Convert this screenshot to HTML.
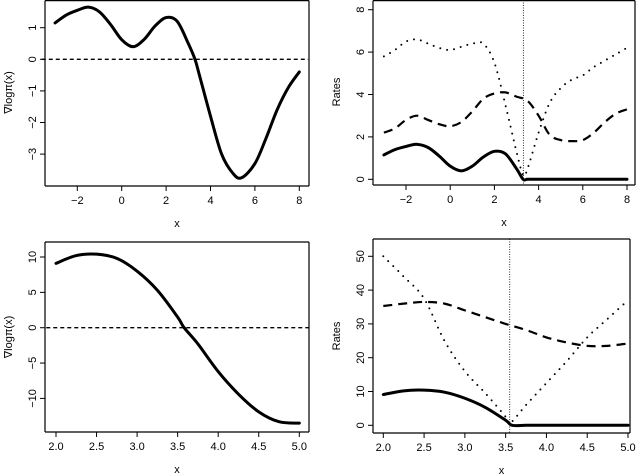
<!DOCTYPE html>
<html><head><meta charset="utf-8"><style>
body{margin:0;background:#fff}
svg{display:block;font-family:"Liberation Sans",sans-serif;font-size:11px}
</style></head><body>
<svg id="c" width="640" height="474"></svg>
<script>
// Panel 1 / 2 data
const xA = [-3,-2.5,-2,-1.5,-1,-0.5,0,0.5,1,1.5,2,2.5,3,3.3,3.5,4,4.5,5,5.4,6,6.5,7,7.5,8];
const gradA = [1.15,1.4,1.55,1.65,1.5,1.1,0.62,0.4,0.62,1.05,1.32,1.2,0.5,0,-0.5,-1.8,-3.0,-3.6,-3.75,-3.3,-2.5,-1.6,-0.9,-0.4];
const xA2 = [-3,-2.5,-2,-1.5,-1,-0.5,0,0.5,1,1.5,2,2.5,3,3.5,4,4.5,5,5.5,6,6.5,7,7.5,8];
const dashA = [2.2,2.4,2.8,3.0,2.8,2.6,2.5,2.7,3.2,3.8,4.05,4.1,3.9,3.7,3.0,2.1,1.85,1.8,1.85,2.2,2.7,3.1,3.3];
const xA3 = [-3,-2.5,-2,-1.5,-1,-0.5,0,0.5,1,1.5,2,2.5,3,3.3,3.5,4,4.5,5,5.5,6,6.5,7,7.5,8];
const dotA = [5.8,6.1,6.5,6.6,6.4,6.2,6.1,6.25,6.4,6.4,5.5,3.5,1.3,0.2,0.5,2.2,3.6,4.3,4.7,4.9,5.3,5.6,5.9,6.2];
const vlineA = 3.31;
// Panel 3 / 4 data
const xB = [2.0,2.25,2.5,2.75,3.0,3.25,3.5,3.58,3.75,4.0,4.25,4.5,4.75,5.0];
const gradB = [9.1,10.2,10.4,9.8,8.0,5.3,1.5,0,-2.3,-6.2,-9.4,-11.9,-13.3,-13.5];
const xB2 = [2.0,2.25,2.5,2.75,3.0,3.25,3.5,3.75,4.0,4.25,4.5,4.75,5.0];
const dashB = [35.3,36,36.5,36,34,32,30,28.2,26,24.5,23.5,23.5,24.2];
const xB3 = [2.0,2.25,2.5,2.75,3.0,3.25,3.5,3.55,3.75,4.0,4.25,4.5,4.75,5.0];
const dotB = [50,44,37.5,25,16,9.5,2.5,0.5,6,12.5,19,26,31.5,37];
const vlineB = 3.55;
const ticksA = [-2,0,2,4,6,8];
const ticksGA = [-3,-2,-1,0,1];
const ticksRA = [0,2,4,6,8];
const ticksB = [2.0,2.5,3.0,3.5,4.0,4.5,5.0];
const ticksGB = [-10,-5,0,5,10];
const ticksRB = [0,10,20,30,40,50];

const NS="http://www.w3.org/2000/svg", svg=document.getElementById('c');
function mk(t,a,p){const e=document.createElementNS(NS,t);for(const k in a)e.setAttribute(k,a[k]);(p||svg).appendChild(e);return e;}
function smooth(pts){let d='M'+pts[0][0]+','+pts[0][1];for(let i=0;i<pts.length-1;i++){const p0=pts[Math.max(0,i-1)],p1=pts[i],p2=pts[i+1],p3=pts[Math.min(pts.length-1,i+2)];d+=' C'+(p1[0]+(p2[0]-p0[0])/6)+','+(p1[1]+(p2[1]-p0[1])/6)+' '+(p2[0]-(p3[0]-p1[0])/6)+','+(p2[1]-(p3[1]-p1[1])/6)+' '+p2[0]+','+p2[1];}return d;}
function panel(name,box,xs,ys,xt,yt,ytitle,xfmt){
  const g=mk('g',{});
  const X=v=>xs[2]+(v-xs[0])*(xs[3]-xs[2])/(xs[1]-xs[0]);
  const Y=v=>ys[2]+(v-ys[0])*(ys[3]-ys[2])/(ys[1]-ys[0]);
  const fr=mk('g',{},g);
  const top=Math.max(box[1],0.6);
  [[box[0],top,box[2],top],[box[2],top,box[2],box[3]],[box[0],box[3],box[2],box[3]],[box[0],top,box[0],box[3]]].forEach(l=>mk('line',{x1:l[0],y1:l[1],x2:l[2],y2:l[3],stroke:'#000','stroke-width':1.2},fr));
  const xa=mk('g',{},g);
  xt.forEach(v=>{mk('line',{x1:X(v),x2:X(v),y1:box[3],y2:box[3]+5,stroke:'#000'},xa);
    const t=mk('text',{x:X(v),y:box[3]+18,'text-anchor':'middle'},xa);t.textContent=xfmt(v).replace('-','\u2212');});
  const xl=mk('text',{x:(box[0]+box[2])/2,y:box[3]+41,'text-anchor':'middle'},g);xl.textContent='x';
  
  const ya=mk('g',{},g);
  yt.forEach(v=>{mk('line',{x1:box[0]-5,x2:box[0],y1:Y(v),y2:Y(v),stroke:'#000'},ya);
    const t=mk('text',{x:box[0]-9,y:Y(v),'text-anchor':'middle',transform:`rotate(-90 ${box[0]-9} ${Y(v)})`},ya);t.textContent=String(v).replace('-','\u2212');});
  const yl=mk('text',{x:box[0]-33,y:(box[1]+box[3])/2,'text-anchor':'middle',transform:`rotate(-90 ${box[0]-33} ${(box[1]+box[3])/2})`},g);yl.textContent=ytitle;
  
  return {g,X,Y};
}
function curve(p,xv,yv,style,nm){const e=mk('path',Object.assign({d:smooth(xv.map((x,i)=>[p.X(x),p.Y(yv[i])])),fill:'none',stroke:'#000','stroke-linecap':'round','stroke-linejoin':'round'},style),p.g);
  return e;}
function hline(p,x0,x1,v,nm){const e=mk('line',{x1:p.X(x0),x2:p.X(x1),y1:p.Y(v),y2:p.Y(v),stroke:'#000','stroke-width':1.3,'stroke-dasharray':'4 3'},p.g);
  }
function vline(p,v,box,nm){const e=mk('line',{x1:p.X(v),x2:p.X(v),y1:Math.max(box[1],0),y2:box[3],stroke:'#000','stroke-width':0.8,'stroke-dasharray':'1 1.5'},p.g);
  }
const f0=v=>String(v), f1=v=>v.toFixed(1);
const solid={'stroke-width':3}, dashed={'stroke-width':2.2,'stroke-dasharray':'9 6','stroke-linecap':'butt'}, dotted={'stroke-width':2,'stroke-dasharray':'0 7'};

const bA1=[45,-1,309,186];
const p1=panel('gradient-panel-top',bA1,[-2,8,77.3,299.3],[0,1,59.3,27.7],ticksA,ticksGA,'\u2207log\u03c0(x)',f0);
hline(p1,-3.6,8.4,0,'zero-line');
curve(p1,xA,gradA,solid,'gradient-curve');

const bA2=[373,-1,635,185];
const p2=panel('rates-panel-top',bA2,[-2,8,406,627],[0,8,179.3,9.7],ticksA,ticksRA,'Rates',f0);
vline(p2,vlineA,bA2,'root-line');
curve(p2,xA3,dotA,dotted,'rate-dotted');
curve(p2,xA2,dashA,dashed,'rate-dashed');
curve(p2,xA,gradA.map(v=>Math.max(0,v)),solid,'rate-solid');

const bB1=[45,242,309,432];
const p3=panel('gradient-panel-bottom',bB1,[2,5,56,299.3],[0,10,327.7,257],ticksB,ticksGB,'\u2207log\u03c0(x)',f1);
hline(p3,1.88,5.12,0,'zero-line');
curve(p3,xB,gradB,solid,'gradient-curve');

const bB2=[373,239,630,433];
const p4=panel('rates-panel-bottom',bB2,[2,5,383.3,628],[0,50,425.3,256.3],ticksB,ticksRB,'Rates',f1);
vline(p4,vlineB,bB2,'root-line');
curve(p4,xB3,dotB,dotted,'rate-dotted');
curve(p4,xB2,dashB,dashed,'rate-dashed');
curve(p4,xB,gradB.map(v=>Math.max(0,v)),solid,'rate-solid');
</script>
</body></html>
